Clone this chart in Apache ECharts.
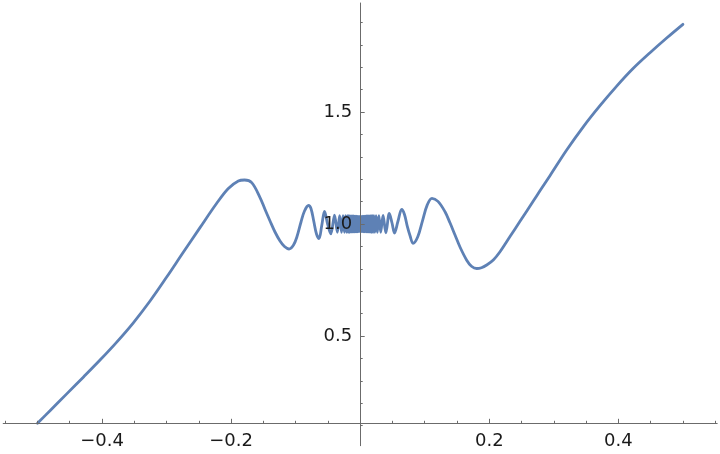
<!DOCTYPE html>
<html><head><meta charset="utf-8">
<script src="https://cdn.jsdelivr.net/npm/echarts@6/dist/echarts.min.js"></script>
<style>html,body{margin:0;padding:0;background:#fff}#c{width:720px;height:454px}</style>
</head><body><div id="c"></div>
<script>
// curve samples
const xValues = [
 -0.5, -0.4806, -0.4547, -0.429, -0.4031, -0.3772, -0.3515, -0.3256, -0.2998, -0.2741,
 -0.2482, -0.2223, -0.2043, -0.1888, -0.1792, -0.1681, -0.1552, -0.1474, -0.1397, -0.1320,
 -0.1242, -0.1173, -0.1103, -0.1033, -0.0979, -0.0917, -0.0863, -0.0801, -0.0763, -0.0720,
 -0.0677, -0.0638, -0.0597, -0.0553, -0.0505, -0.0455,
 -0.0398, -0.0354, -0.0318, -0.0289, -0.0265, -0.0245, -0.0227, -0.0212, -0.0199, -0.0187,
 -0.0177, -0.0168, -0.0159, -0.0150, -0.0141, -0.0132, -0.0123, -0.0114, -0.0105, -0.0096,
 -0.0087, -0.0078, -0.0069, -0.0060, -0.0051, -0.0042, -0.0033, -0.0024, -0.0015, -0.0006,
 0.0006, 0.0015, 0.0024, 0.0033, 0.0042, 0.0051, 0.0060, 0.0069, 0.0078, 0.0087,
 0.0096, 0.0105, 0.0114, 0.0123, 0.0132, 0.0141, 0.0150, 0.0159, 0.0168, 0.0177,
 0.0187, 0.0199, 0.0212, 0.0227, 0.0245, 0.0265, 0.0289, 0.0318, 0.0354, 0.0398,
 0.0451, 0.0493, 0.0531, 0.0586, 0.0643, 0.0686, 0.0730, 0.0775, 0.0818, 0.0892,
 0.0965, 0.1039, 0.1112, 0.1205, 0.1314, 0.1391, 0.1469, 0.1546, 0.1650, 0.1724,
 0.1805, 0.1879, 0.1960, 0.2062, 0.2166, 0.2321, 0.2476, 0.2682, 0.2785, 0.2940,
 0.3199, 0.3456, 0.3715, 0.3974, 0.4231, 0.4490, 0.4748, 0.5
];
const yValues = [
 0.1103, 0.1666, 0.2417, 0.3162, 0.3926, 0.4729, 0.559, 0.6561, 0.7632, 0.8737,
 0.9838, 1.0926, 1.1585, 1.192, 1.1964, 1.1844, 1.1183, 1.0647, 1.0134, 0.9643,
 0.9241, 0.8996, 0.8884, 0.9063, 0.9442, 1.0089, 1.058, 1.0826, 1.0692, 1.0134,
 0.9554, 0.9353, 0.9911, 1.0558, 1.0, 0.956,
 1.04, 0.963, 1.037, 0.963, 1.037, 0.963, 1.037, 0.963, 1.037, 0.963,
 1.037, 0.963, 1.036, 0.964, 1.036, 0.964, 1.036, 0.964, 1.036, 0.964,
 1.035, 0.965, 1.035, 0.965, 1.035, 0.965, 1.034, 0.966, 1.034, 0.966,
 1.034, 0.966, 1.034, 0.966, 1.035, 0.965, 1.035, 0.965, 1.035, 0.965,
 1.036, 0.964, 1.036, 0.964, 1.036, 0.964, 1.036, 0.964, 1.037, 0.963,
 1.037, 0.963, 1.037, 0.963, 1.037, 0.963, 1.037, 0.963, 1.038, 0.961,
 1.0469, 1.0045, 0.9598, 1.0134, 1.0647, 1.0424, 0.9893, 0.9451, 0.9138, 0.9433,
 1.0143, 1.0853, 1.1147, 1.1009, 1.0545, 1.0054, 0.9509, 0.8973, 0.8385, 0.8116,
 0.8013, 0.8049, 0.817, 0.8393, 0.8763, 0.9442, 1.0121, 1.1027, 1.1482, 1.2156,
 1.3304, 1.4339, 1.5281, 1.6156, 1.6951, 1.7647, 1.8304, 1.8915
];
const xMajorTicks = [-0.4, -0.2, 0.2, 0.4];
const xMinorTicks = [-0.55, -0.5, -0.45, -0.35, -0.3, -0.25, -0.15, -0.1, -0.05, 0.05, 0.1, 0.15, 0.25, 0.3, 0.35, 0.45, 0.5, 0.55];
const yMajorTicks = [0.5, 1.0, 1.5];
const yMinorTicks = [0.1, 0.2, 0.3, 0.4, 0.6, 0.7, 0.8, 0.9, 1.1, 1.2, 1.3, 1.4, 1.6, 1.7, 1.8, 1.9];

const points = xValues.map((x, i) => [x, yValues[i]]);
const fmt = v => (v < 0 ? '\u2212' : '') + Math.abs(v).toFixed(1);
const AX = '#6b6b6b';
const labelStyle = { color: '#1a1a1a', fontFamily: 'DejaVu Sans', fontSize: 18 };
const XMIN = -0.5531, XMAX = 0.5531, YMIN = 0.0103, YMAX = 1.9866;
const GL = 3.2, GW = 714;
const yAxisShift = -((0 - XMIN) / (XMAX - XMIN) * GW); // place y axis at x = 0
const xAxisShift = -22.4; // x axis sits at the curve's lowest value

const chart = echarts.init(document.getElementById('c'), null, { renderer: 'canvas' });
chart.setOption({
  animation: false,
  backgroundColor: '#fff',
  grid: { left: GL, width: GW, top: 3, height: 442.7, containLabel: false, outerBoundsMode: 'none' },
  xAxis: [
    { type: 'value', min: XMIN, max: XMAX, position: 'bottom', offset: xAxisShift, z: 3,
      axisLine: { show: true, onZero: false, lineStyle: { color: AX, width: 1 } },
      axisTick: { show: true, inside: true, length: 4.5, customValues: xMajorTicks, lineStyle: { color: AX } },
      axisLabel: Object.assign({ show: true, customValues: xMajorTicks, formatter: fmt, margin: 9 }, labelStyle),
      splitLine: { show: false } },
    { type: 'value', min: XMIN, max: XMAX, position: 'bottom', offset: xAxisShift, z: 3,
      axisLine: { show: false, onZero: false },
      axisTick: { show: true, inside: true, length: 2.5, customValues: xMinorTicks, lineStyle: { color: AX } },
      axisLabel: { show: false },
      splitLine: { show: false } }
  ],
  yAxis: [
    { type: 'value', min: YMIN, max: YMAX, position: 'left', offset: yAxisShift, z: 3,
      axisLine: { show: true, onZero: false, lineStyle: { color: AX, width: 1 } },
      axisTick: { show: true, inside: true, length: 4.5, customValues: yMajorTicks, lineStyle: { color: AX } },
      axisLabel: Object.assign({ show: true, customValues: yMajorTicks, formatter: v => v.toFixed(1), margin: 8 }, labelStyle),
      splitLine: { show: false } },
    { type: 'value', min: YMIN, max: YMAX, position: 'left', offset: yAxisShift, z: 3,
      axisLine: { show: false, onZero: false },
      axisTick: { show: true, inside: true, length: 2.5, customValues: yMinorTicks, lineStyle: { color: AX } },
      axisLabel: { show: false },
      splitLine: { show: false } }
  ],
  series: [{
    type: 'line', data: points, xAxisIndex: 0, yAxisIndex: 0,
    showSymbol: false, symbol: 'none', smooth: 0.35, clip: false, z: 2,
    lineStyle: { color: '#5e81b5', width: 2.8, join: 'round', cap: 'round' }
  }]
});
</script></body></html>
